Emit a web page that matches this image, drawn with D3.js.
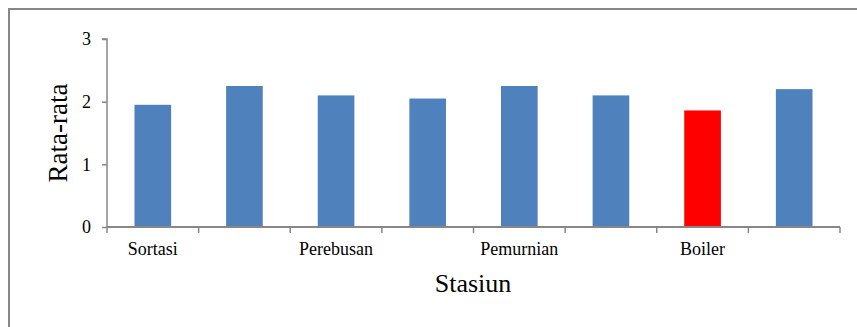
<!DOCTYPE html>
<html><head><meta charset="utf-8">
<script src="https://cdn.jsdelivr.net/npm/d3@7"></script>
<style>html,body{margin:0;padding:0;background:#fff;}svg{display:block;}</style>
</head><body>
<script>
// Data
const categoryLabels = ["Sortasi", "", "Perebusan", "", "Pemurnian", "", "Boiler", ""];
const values = [1.95, 2.25, 2.1, 2.05, 2.25, 2.1, 1.86, 2.2];
const barColors = ["#4F81BD", "#4F81BD", "#4F81BD", "#4F81BD", "#4F81BD", "#4F81BD", "#FF0000", "#4F81BD"];
const yTicks = [0, 1, 2, 3];
const yTitle = "Rata-rata";
const xTitle = "Stasiun";

(function () {
const W = 857, H = 327;
const svg = d3.select("body").append("svg").attr("width", W).attr("height", H);
svg.append("rect").attr("width", W).attr("height", H).attr("fill", "#fff");

// frame
svg.append("rect").attr("x", 9).attr("y", 9).attr("width", W + 20).attr("height", H + 20)
  .attr("fill", "none").attr("stroke", "#878787").attr("stroke-width", 2);

const pLeft = 107, pRight = 840, pTop = 39, pBottom = 227;
const x = d3.scaleBand().domain(d3.range(values.length)).range([pLeft, pRight]).paddingInner(0.6).paddingOuter(0.3);
const xb = d3.scaleBand().domain(d3.range(values.length)).range([pLeft, pRight]);
const y = d3.scaleLinear().domain([0, 3]).range([pBottom, pTop]);

// bars
svg.append("g").selectAll("rect").data(values).join("rect")
  .attr("x", (d, i) => x(i)).attr("width", x.bandwidth())
  .attr("y", d => y(d)).attr("height", d => y(0) - y(d))
  .attr("fill", (d, i) => barColors[i]);

const font = "'Liberation Serif','Times New Roman',serif";

// y axis
const ya = svg.append("g").attr("transform", `translate(${pLeft},0)`)
  .call(d3.axisLeft(y).tickValues(yTicks).tickFormat(d3.format("d")).tickSize(5).tickPadding(11));
ya.select(".domain").attr("stroke", "#878787").attr("stroke-width", 1.5).attr("d", `M-5,${pTop}H0V${pBottom}`);
ya.selectAll(".tick line").attr("stroke", "#878787").attr("stroke-width", 1.5);
ya.selectAll(".tick text").attr("font-family", font).attr("font-size", 18).attr("fill", "#000");

// x axis
const xa = svg.append("g").attr("transform", `translate(0,${pBottom})`);
xa.append("line").attr("x1", pLeft).attr("x2", pRight).attr("y1", 0).attr("y2", 0)
  .attr("stroke", "#878787").attr("stroke-width", 2);
const tickPos = d3.range(values.length + 1).map(i => i < values.length ? xb(i) : pRight);
xa.selectAll("line.t").data(tickPos).join("line").attr("class", "t")
  .attr("x1", d => d).attr("x2", d => d).attr("y1", 0).attr("y2", 6)
  .attr("stroke", "#878787").attr("stroke-width", 1.5);
xa.selectAll("text").data(categoryLabels).join("text")
  .attr("x", (d, i) => xb(i) + xb.bandwidth() / 2).attr("y", 28)
  .attr("text-anchor", "middle").attr("font-family", font).attr("font-size", 18).attr("fill", "#000")
  .text(d => d);

// titles
svg.append("text").attr("transform", `translate(67,133) rotate(-90)`)
  .attr("text-anchor", "middle").attr("font-family", font).attr("font-size", 27).attr("fill", "#000").text(yTitle);
svg.append("text").attr("x", 473).attr("y", 292)
  .attr("text-anchor", "middle").attr("font-family", font).attr("font-size", 26).attr("fill", "#000").text(xTitle);
})();
</script>
</body></html>
